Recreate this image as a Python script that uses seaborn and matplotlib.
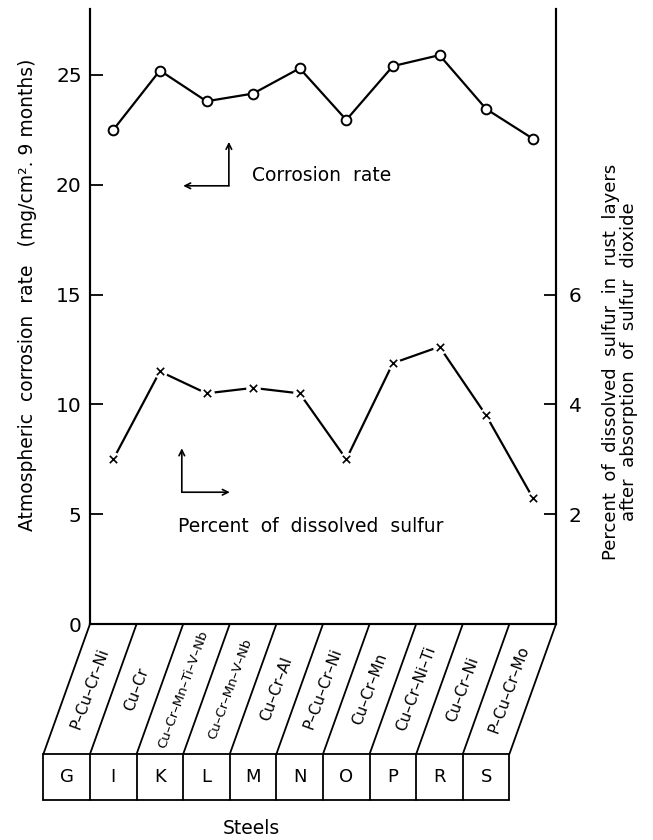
import numpy as np
import pandas as pd
import matplotlib
matplotlib.use("Agg")
import matplotlib.pyplot as plt
import matplotlib.transforms as mtransforms
import seaborn as sns

# ---- data ----
steels = ["G", "I", "K", "L", "M", "N", "O", "P", "R", "S"]
compositions = ["P–Cu–Cr–Ni", "Cu–Cr", "Cu–Cr–Mn–Ti–V–Nb", "Cu–Cr–Mn–V–Nb", "Cu–Cr–Al",
                "P–Cu–Cr–Ni", "Cu–Cr–Mn", "Cu–Cr–Ni–Ti", "Cu–Cr–Ni", "P–Cu–Cr–Mo"]
corrosion_rate = [22.5, 25.2, 23.8, 24.15, 25.3, 22.95, 25.4, 25.9, 23.45, 22.1]
dissolved_sulfur = [3.0, 4.6, 4.2, 4.3, 4.2, 3.0, 4.75, 5.05, 3.8, 2.3]
left_ticks = [0, 5, 10, 15, 20, 25]
right_ticks = [2, 4, 6]

sns.set_style("white")
plt.rcParams['font.family'] = ['DejaVu Sans']
plt.rcParams['text.color'] = 'black'
plt.rcParams['axes.labelcolor'] = 'black'
plt.rcParams['xtick.color'] = 'black'
plt.rcParams['ytick.color'] = 'black'

W, H = 653, 840
fig = plt.figure(figsize=(W / 100, H / 100), dpi=100)
ax = fig.add_axes([90 / W, 1 - 624 / H, 466 / W, 615 / H])

df = pd.DataFrame({"idx": np.arange(len(steels)), "steel": steels,
                   "corr": corrosion_rate, "sulfur": dissolved_sulfur})

sns.lineplot(data=df, x="idx", y="corr", ax=ax, color="black", lw=1.6,
             marker="o", markersize=7, markerfacecolor="white",
             markeredgecolor="black", markeredgewidth=1.4)

ax2 = ax.twinx()
sns.lineplot(data=df, x="idx", y="sulfur", ax=ax2, color="black", lw=1.6)
ax2.scatter(df["idx"], df["sulfur"], s=110, c="white", zorder=3, linewidths=0)
ax2.scatter(df["idx"], df["sulfur"], marker="x", s=28, c="black", linewidths=1.2, zorder=4)

ax.set_xlim(-0.5, 9.5)
ax.set_ylim(0, 28)
ax2.set_ylim(0, 11.2)
ax.set_xticks([])
ax.set_yticks(left_ticks)
ax2.set_yticks(right_ticks)
ax.set_xlabel("")
ax.set_ylabel("")
ax2.set_ylabel("")
ax.grid(False)
ax2.grid(False)

for a in (ax, ax2):
    a.spines["top"].set_visible(False)
    for s in ("left", "right", "bottom"):
        a.spines[s].set_linewidth(1.5)
        a.spines[s].set_color("black")

ax.tick_params(axis="y", direction="in", length=9, width=1.3, labelsize=14.5, pad=6, colors="black")
ax2.tick_params(axis="y", direction="in", length=9, width=1.3, labelsize=14.5, pad=9, colors="black")

# annotation arrows
arr = dict(arrowstyle="->", lw=1.2, color="black", shrinkA=0, shrinkB=0)
ax.annotate("", xy=(2.48, 21.95), xytext=(2.48, 19.95), arrowprops=arr)
ax.annotate("", xy=(1.50, 19.95), xytext=(2.48, 19.95), arrowprops=arr)
ax.text(2.98, 20.4, "Corrosion  rate", fontsize=13.5, ha="left", va="center")

ax.annotate("", xy=(1.47, 8.0), xytext=(1.47, 6.0), arrowprops=arr)
ax.annotate("", xy=(2.50, 6.0), xytext=(1.47, 6.0), arrowprops=arr)
ax.text(1.39, 4.42, "Percent  of  dissolved  sulfur", fontsize=13.5, ha="left", va="center")

# table below the axis
trans = mtransforms.blended_transform_factory(ax.transData, ax.transAxes)
y_mid = -130 / 615
y_bot = -176 / 615
n = len(steels)
lk = dict(color="black", lw=1.3, transform=trans, clip_on=False)
for k in range(n + 1):
    ax.plot([k - 0.5, k - 1.5], [0, y_mid], **lk)
    ax.plot([k - 1.5, k - 1.5], [y_mid, y_bot], **lk)
ax.plot([-1.5, n - 1.5], [y_mid, y_mid], **lk)
ax.plot([-1.5, n - 1.5], [y_bot, y_bot], **lk)

for k, (st, comp) in enumerate(zip(steels, compositions)):
    fs = 9.5 if len(comp) > 12 else 11
    ax.text(k - 0.5, y_mid / 2, comp, rotation=70, rotation_mode="anchor",
            ha="center", va="center", fontsize=fs, transform=trans)
    ax.text(k - 1, (y_mid + y_bot) / 2, st, ha="center", va="center",
            fontsize=13, transform=trans)

fig.text(251 / W, 1 - 829 / H, "Steels", ha="center", va="center", fontsize=13.5)

fig.text(28 / W, 1 - 295 / H, "Atmospheric  corrosion  rate   (mg/cm². 9 months)",
         rotation=90, ha="center", va="center", fontsize=13.5)
fig.text(620 / W, 1 - 362 / H,
         "Percent  of  dissolved  sulfur  in  rust  layers\nafter  absorption  of  sulfur  dioxide",
         rotation=90, ha="center", va="center", fontsize=13, linespacing=1.0)

fig.savefig("out.png", dpi=100)
